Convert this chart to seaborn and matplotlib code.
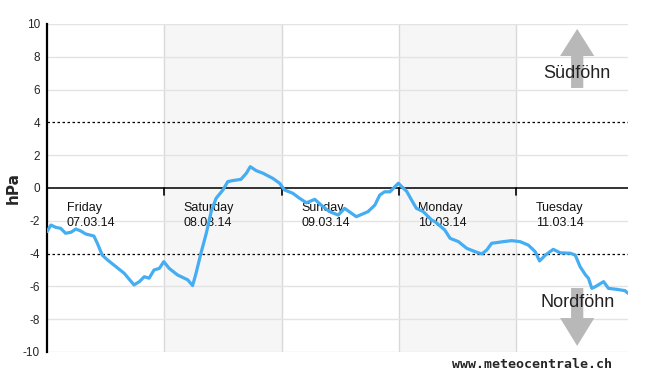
import numpy as np
import pandas as pd
import matplotlib
matplotlib.use("Agg")
import matplotlib.pyplot as plt
from matplotlib.patches import Polygon
import seaborn as sns

# ---- data ----
hours = [0, 0.8, 1.8, 2.8, 3.8, 4.9, 5.9, 6.9, 7.9, 9.6, 10.3, 11.3, 12.4, 13.7,
         15.8, 17.8, 18.9, 19.9, 20.9, 21.9, 23.0, 23.9, 25.0, 26.7, 28.8, 29.8,
         30.5, 31.5, 32.6, 33.6, 34.6, 36.0, 37.0, 38.0, 39.7, 40.8, 41.6, 42.8,
         44.2, 46.2, 47.6, 48.6, 50.3, 51.7, 53.1, 54.8, 56.1, 57.8, 59.6, 60.9,
         63.3, 65.7, 67.1, 68.1, 69.1, 70.2, 71.2, 71.9, 72.6, 73.6, 74.6, 75.6,
         77.0, 78.7, 79.4, 81.4, 82.5, 84.2, 85.9, 87.6, 89.0, 90.0, 91.0, 92.0,
         93.4, 95.1, 96.8, 98.5, 99.9, 100.8, 102.0, 103.6, 105.0, 107.1, 108.1,
         109.1, 110.2, 110.8, 111.5, 112.2, 113.9, 114.9, 116.6, 118.3, 118.9]
pressure_diff = [-2.66, -2.26, -2.40, -2.46, -2.76, -2.70, -2.50, -2.62, -2.80, -2.93,
                 -3.37, -4.09, -4.39, -4.70, -5.20, -5.91, -5.71, -5.41, -5.50, -5.00,
                 -4.90, -4.49, -4.90, -5.30, -5.60, -5.95, -5.20, -3.98, -2.76, -1.44,
                 -0.63, -0.12, 0.39, 0.45, 0.53, 0.90, 1.30, 1.06, 0.90, 0.59, 0.29,
                 -0.12, -0.32, -0.63, -0.90, -0.69, -1.04, -1.44, -1.65, -1.24, -1.75,
                 -1.44, -1.04, -0.43, -0.23, -0.23, 0.08, 0.29, 0.08, -0.20, -0.73,
                 -1.24, -1.44, -1.95, -2.05, -2.56, -3.07, -3.27, -3.68, -3.88, -4.02,
                 -3.78, -3.37, -3.33, -3.27, -3.21, -3.27, -3.48, -3.88, -4.45, -4.09,
                 -3.74, -3.95, -3.98, -4.09, -4.80, -5.30, -5.50, -6.12, -6.02, -5.71,
                 -6.12, -6.18, -6.26, -6.42]
day_names = ["Friday", "Saturday", "Sunday", "Monday", "Tuesday"]
day_dates = ["07.03.14", "08.03.14", "09.03.14", "10.03.14", "11.03.14"]
shaded_days = [1, 3]
y_ticks = list(range(-10, 11, 2))

df = pd.DataFrame({"hours": hours, "hPa": pressure_diff})

# ---- style ----
sns.set_style("white")
plt.rcParams["font.family"] = ["Liberation Sans", "DejaVu Sans"]
plt.rcParams["axes.unicode_minus"] = False

fig = plt.figure(figsize=(6.5, 3.75), dpi=100)
ax = fig.add_axes([47 / 650, 1 - 352 / 375, (628 - 47) / 650, (352 - 24) / 375])

x_max = 118.9
ax.set_xlim(0, x_max)
ax.set_ylim(-10, 10)

# shaded days and day separators
for d in shaded_days:
    ax.axvspan(d * 24, (d + 1) * 24, color="#f6f6f6", zorder=0, lw=0)
for d in range(1, len(day_names)):
    ax.axvline(d * 24, color="#d9d9d9", lw=1, zorder=1)
    ax.plot([d * 24, d * 24], [0, -0.4], color="black", lw=1.2, zorder=3)

# horizontal lines
for v in y_ticks:
    if v == 0:
        ax.axhline(0, color="#222222", lw=1.3, zorder=2)
    elif abs(v) == 4:
        ax.axhline(v, color="black", lw=0.9, ls=(0, (2, 2)), zorder=2)
    else:
        ax.axhline(v, color="#e3e3e3", lw=1, zorder=1)

# day labels
for i, (n, dt) in enumerate(zip(day_names, day_dates)):
    ax.text(i * 24 + 4.0, -1.24, n, fontsize=9, va="center", ha="left", color="#111111", zorder=4)
    ax.text(i * 24 + 4.0, -2.15, dt, fontsize=9, va="center", ha="left", color="#111111", zorder=4)

# föhn arrows
cx = 108.5
hw, sw = 3.5, 1.25
up = Polygon([[cx - sw, 6.1], [cx - sw, 8.05], [cx - hw, 8.05], [cx, 9.7],
              [cx + hw, 8.05], [cx + sw, 8.05], [cx + sw, 6.1]],
             closed=True, color="#b8b8b8", lw=0, zorder=2)
down = Polygon([[cx - sw, -6.1], [cx - sw, -7.93], [cx - hw, -7.93], [cx, -9.63],
                [cx + hw, -7.93], [cx + sw, -7.93], [cx + sw, -6.1]],
               closed=True, color="#b8b8b8", lw=0, zorder=2)
ax.add_patch(up)
ax.add_patch(down)
ax.text(cx, 7.0, "Südföhn", fontsize=13, ha="center", va="center", color="#222222", zorder=5)
ax.text(cx, -7.0, "Nordföhn", fontsize=13, ha="center", va="center", color="#222222", zorder=5)

# data line
sns.lineplot(data=df, x="hours", y="hPa", color="#45adf2", lw=2.3, ax=ax, zorder=4)

# axes styling
ax.set_yticks(y_ticks)
ax.set_yticklabels([str(v) for v in y_ticks], fontsize=8.5)
ax.set_yticks(range(-10, 11), minor=True)
ax.tick_params(axis="y", which="both", direction="in", length=5, width=1, color="black", pad=5)
ax.set_xticks([])
ax.set_xlabel("")
ax.set_ylabel("hPa", fontsize=11, fontweight="bold", family="DejaVu Sans")
ax.yaxis.set_label_coords((21 - 47) / 581, 0.5)
for s in ["top", "right", "bottom"]:
    ax.spines[s].set_visible(False)
ax.spines["left"].set_linewidth(1.6)
ax.spines["left"].set_color("black")

fig.text(612 / 650, 1 - 365 / 375, "www.meteocentrale.ch", fontsize=9.5, fontweight="bold",
         family="DejaVu Sans Mono", ha="right", va="center")

fig.savefig("out.png", dpi=100)
